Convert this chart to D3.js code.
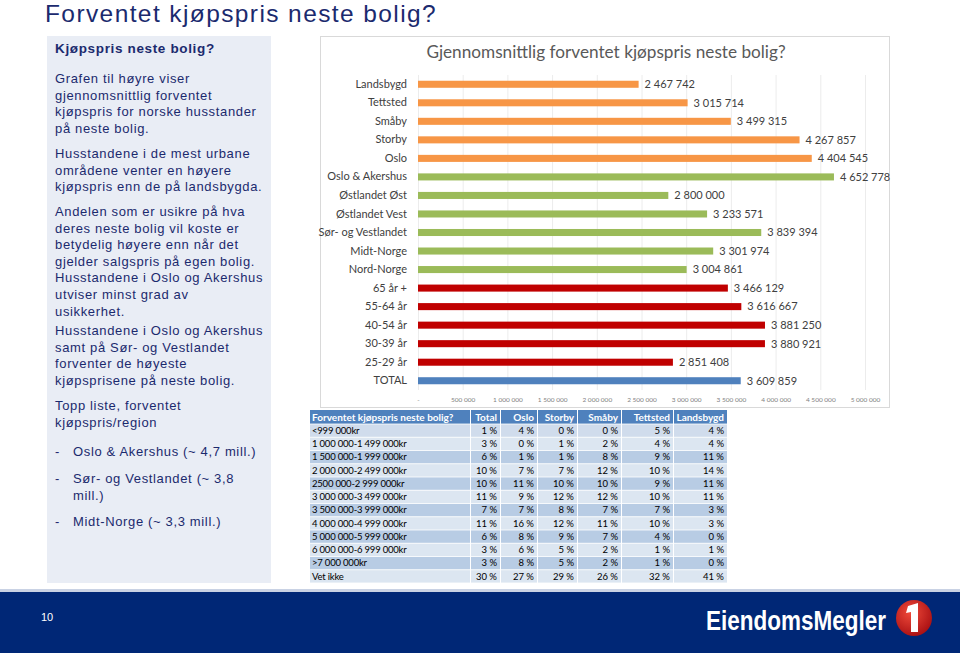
<!DOCTYPE html>
<html><head><meta charset="utf-8">
<script src="https://cdn.jsdelivr.net/npm/d3@7"></script>
<style>
html,body{margin:0;padding:0;background:#fff;}
svg{display:block;}
</style></head>
<body>
<script>
// ---------- DATA ----------
const categories = ["Landsbygd","Tettsted","Småby","Storby","Oslo","Oslo & Akershus","Østlandet Øst","Østlandet Vest","Sør- og Vestlandet","Midt-Norge","Nord-Norge","65 år +","55-64 år","40-54 år","30-39 år","25-29 år","TOTAL"];
const values = [2467742,3015714,3499315,4267857,4404545,4652778,2800000,3233571,3839394,3301974,3004861,3466129,3616667,3881250,3880921,2851408,3609859];
const groups = ["bosted","bosted","bosted","bosted","bosted","region","region","region","region","region","region","alder","alder","alder","alder","alder","total"];
const xTicks = [0,500000,1000000,1500000,2000000,2500000,3000000,3500000,4000000,4500000,5000000];

const tableHeader = ["Forventet kjøpspris neste bolig?","Total","Oslo","Storby","Småby","Tettsted","Landsbygd"];
const tableRows = ["<999 000kr","1 000 000-1 499 000kr","1 500 000-1 999 000kr","2 000 000-2 499 000kr","2500 000-2 999 000kr","3 000 000-3 499 000kr","3 500 000-3 999 000kr","4 000 000-4 999 000kr","5 000 000-5 999 000kr","6 000 000-6 999 000kr",">7 000 000kr","Vet ikke"];
const colTotal     = [1,3,6,10,10,11,7,11,6,3,3,30];
const colOslo      = [4,0,1,7,11,9,7,16,8,6,8,27];
const colStorby    = [0,1,1,7,10,12,8,12,9,5,5,29];
const colSmaby     = [0,2,8,12,10,12,7,11,7,2,2,26];
const colTettsted  = [5,4,9,10,9,10,7,10,4,1,1,32];
const colLandsbygd = [4,4,11,14,11,11,3,3,0,1,0,41];

const pageTitle = "Forventet kjøpspris neste bolig?";
const chartTitle = "Gjennomsnittlig forventet kjøpspris neste bolig?";
const panelHeading = "Kjøpspris neste bolig?";
const panelParagraphs = [
  ["Grafen til høyre viser","gjennomsnittlig forventet","kjøpspris for norske husstander","på neste bolig."],
  ["Husstandene i de mest urbane","områdene venter en høyere","kjøpspris enn de på landsbygda."],
  ["Andelen som er usikre på hva","deres neste bolig vil koste er","betydelig høyere enn når det","gjelder salgspris på egen bolig.","Husstandene i Oslo og Akershus","utviser minst grad av","usikkerhet."],
  ["Husstandene i Oslo og Akershus","samt på Sør- og Vestlandet","forventer de høyeste","kjøpsprisene på neste bolig."],
  ["Topp liste, forventet","kjøpspris/region"]
];
const panelBullets = [
  ["Oslo & Akershus (~ 4,7 mill.)"],
  ["Sør- og Vestlandet (~ 3,8","mill.)"],
  ["Midt-Norge (~ 3,3 mill.)"]
];
const pageNumber = "10";
const logoText = "EiendomsMegler";

// ---------- DRAW ----------
const W = 960, H = 653;
const svg = d3.select("body").append("svg").attr("width", W).attr("height", H);
const navy = "#1b2a6e";
const sans = "'Liberation Sans', Arial, sans-serif";
const cal = "Lato, 'Open Sans', sans-serif";

// Page title
svg.append("text").attr("x", 45).attr("y", 22)
  .attr("font-family", sans).attr("font-size", 24.5).attr("letter-spacing", 1.4)
  .attr("fill", navy).text(pageTitle);

// Left panel
svg.append("rect").attr("x", 47).attr("y", 36).attr("width", 224).attr("height", 547).attr("fill", "#e9edf5");
const pText = svg.append("g").attr("font-family", sans).attr("font-size", 13).attr("letter-spacing", 0.65).attr("fill", navy);
pText.append("text").attr("x", 55).attr("y", 53).attr("font-weight", "bold").attr("font-size", 13.5).text(panelHeading);
const paraStarts = [83, 158, 216, 335, 410];
const lh = 16.6;
panelParagraphs.forEach((p, i) => {
  p.forEach((line, j) => {
    pText.append("text").attr("x", 55).attr("y", paraStarts[i] + j * lh).text(line);
  });
});
const bulletStarts = [456, 483, 526];
panelBullets.forEach((b, i) => {
  pText.append("text").attr("x", 55).attr("y", bulletStarts[i]).text("-");
  b.forEach((line, j) => {
    pText.append("text").attr("x", 73).attr("y", bulletStarts[i] + j * lh).text(line);
  });
});

// Chart frame
svg.append("rect").attr("x", 320.5).attr("y", 36.5).attr("width", 569).attr("height", 371)
  .attr("fill", "#fff").attr("stroke", "#d9d9d9");
svg.append("text").attr("x", 606).attr("y", 58).attr("text-anchor", "middle")
  .attr("font-family", cal).attr("font-size", 17.2).attr("fill", "#595959").text(chartTitle);

const x = d3.scaleLinear().domain([0, 5000000]).range([418, 865]);
const y = d3.scaleBand().domain(categories).range([75, 390]).paddingInner(0.62).paddingOuter(0.31);
const color = d3.scaleOrdinal().domain(["bosted","region","alder","total"]).range(["#f79646","#9bbb59","#c00000","#4f81bd"]);
const fmt = v => v === 0 ? "-" : d3.format(",")(v).replace(/,/g, " ");

// gridlines
svg.append("g").selectAll("line").data(xTicks).join("line")
  .attr("x1", d => x(d) + 0.5).attr("x2", d => x(d) + 0.5)
  .attr("y1", 75).attr("y2", 390).attr("stroke", "#ececec");

// x axis
const xAxis = svg.append("g").attr("transform", "translate(0,394)")
  .call(d3.axisBottom(x).tickValues(xTicks).tickSize(0).tickFormat(fmt));
xAxis.select(".domain").remove();
xAxis.selectAll("text").attr("font-family", cal).attr("font-size", 6.5).attr("fill", "#7f7f7f");

// y axis labels
const yAxis = svg.append("g").attr("transform", "translate(410,0)")
  .call(d3.axisLeft(y).tickSize(0).tickPadding(3));
yAxis.select(".domain").remove();
yAxis.selectAll("text").attr("font-family", cal).attr("font-size", 11).attr("fill", "#404040");

// bars
const data = categories.map((c, i) => ({c, v: values[i], g: groups[i]}));
svg.append("g").selectAll("rect").data(data).join("rect")
  .attr("x", x(0)).attr("y", d => y(d.c))
  .attr("width", d => x(d.v) - x(0)).attr("height", y.bandwidth())
  .attr("fill", d => color(d.g));
svg.append("g").selectAll("text").data(data).join("text")
  .attr("x", d => x(d.v) + 6).attr("y", d => y(d.c) + y.bandwidth() / 2)
  .attr("dy", "0.35em").attr("font-family", cal).attr("font-size", 11).attr("fill", "#404040")
  .text(d => fmt(d.v));

// Table
const cols = [colTotal, colOslo, colStorby, colSmaby, colTettsted, colLandsbygd];
const colEdges = [310, 470, 500, 537, 577, 621, 673, 727];
const tY0 = 410, headH = 14, rowH = 13.25;
const tg = svg.append("g").attr("font-family", cal);
tg.append("rect").attr("x", colEdges[0]).attr("y", tY0).attr("width", colEdges[7] - colEdges[0]).attr("height", headH).attr("fill", "#4f81bd");
tableRows.forEach((r, i) => {
  const fill = i === 0 ? "#d0dcec" : (i % 2 === 0 ? "#b8cce4" : "#dce6f1");
  tg.append("rect").attr("x", colEdges[0]).attr("y", tY0 + headH + i * rowH).attr("width", colEdges[7] - colEdges[0]).attr("height", rowH).attr("fill", fill);
});
for (let k = 1; k < 7; k++) {
  tg.append("line").attr("x1", colEdges[k] + 0.5).attr("x2", colEdges[k] + 0.5)
    .attr("y1", tY0).attr("y2", tY0 + headH + tableRows.length * rowH)
    .attr("stroke", "#fff").attr("stroke-width", 1);
}
for (let i = 0; i <= tableRows.length; i++) {
  tg.append("line").attr("x1", colEdges[0]).attr("x2", colEdges[7])
    .attr("y1", tY0 + headH + i * rowH).attr("y2", tY0 + headH + i * rowH)
    .attr("stroke", "#fff").attr("stroke-width", 0.8);
}
tableHeader.forEach((h, k) => {
  tg.append("text").attr("x", k === 0 ? colEdges[0] + 2 : colEdges[k + 1] - 3).attr("y", tY0 + headH / 2)
    .attr("dy", "0.36em").attr("text-anchor", k === 0 ? "start" : "end")
    .attr("font-size", 10).attr("font-weight", "bold").attr("fill", "#fff").text(h);
});
tableRows.forEach((r, i) => {
  const cy = tY0 + headH + i * rowH + rowH / 2;
  tg.append("text").attr("x", colEdges[0] + 2).attr("y", cy).attr("dy", "0.35em")
    .attr("font-size", 9.5).attr("letter-spacing", -0.2).attr("fill", "#000").text(r);
  cols.forEach((c, k) => {
    tg.append("text").attr("x", colEdges[k + 2] - 3).attr("y", cy).attr("dy", "0.35em")
      .attr("text-anchor", "end").attr("font-size", 9.5).attr("fill", "#000").text(c[i] + " %");
  });
});

// Footer
svg.append("rect").attr("x", 0).attr("y", 589).attr("width", W).attr("height", 3).attr("fill", "#c9d2e4");
svg.append("rect").attr("x", 0).attr("y", 592).attr("width", W).attr("height", H - 592).attr("fill", "#002776");
svg.append("text").attr("x", 41).attr("y", 621).attr("font-family", sans).attr("font-size", 11).attr("fill", "#fff").text(pageNumber);
svg.append("text").attr("x", 706).attr("y", 630).attr("font-family", "'Liberation Sans Narrow', 'Liberation Sans', sans-serif")
  .attr("font-weight", "bold").attr("font-size", 27).attr("fill", "#fff")
  .attr("textLength", 180).attr("lengthAdjust", "spacingAndGlyphs").text(logoText);
const grad = svg.append("defs").append("radialGradient").attr("id", "lg").attr("cx", "40%").attr("cy", "35%").attr("r", "70%");
grad.append("stop").attr("offset", "0%").attr("stop-color", "#f04a3a");
grad.append("stop").attr("offset", "100%").attr("stop-color", "#a80f12");
svg.append("circle").attr("cx", 914).attr("cy", 618).attr("r", 18).attr("fill", "url(#lg)");
svg.append("path")
  .attr("d", "M908,606 L918,603 L918,632 L911,632 L911,612 L906,613 Z")
  .attr("fill", "#fff");
</script>
</body></html>
